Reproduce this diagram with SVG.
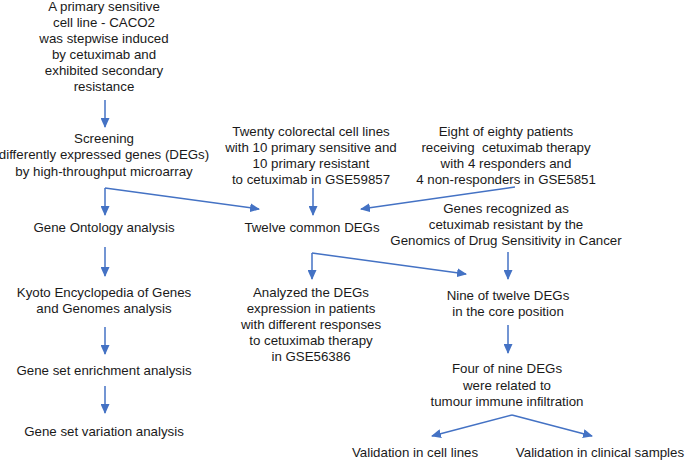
<svg xmlns="http://www.w3.org/2000/svg" width="685" height="463" viewBox="0 0 685 463">
<style>
text{font-family:"Liberation Sans",Arial,sans-serif;font-size:13.3px;fill:#1a1a1a;text-anchor:middle}
.c{fill:none;stroke:#4472C4;stroke-width:1.5}
</style>
<defs>
<marker id="ah" markerUnits="userSpaceOnUse" markerWidth="10" markerHeight="9" refX="9" refY="4.5" orient="auto">
<path d="M0,0 L10,4.5 L0,9 z" fill="#4472C4"/>
</marker>
</defs>
<rect width="685" height="463" fill="#fff"/>
<g id="connectors">
<path class="c" d="M105,100 L105,127" marker-end="url(#ah)"/>
<path class="c" d="M105,188 L105,215" marker-end="url(#ah)"/>
<path class="c" d="M105,188 L259,209" marker-end="url(#ah)"/>
<path class="c" d="M313,188 L313,215" marker-end="url(#ah)"/>
<path class="c" d="M515,187 L361,209" marker-end="url(#ah)"/>
<path class="c" d="M105,247 L105,276" marker-end="url(#ah)"/>
<path class="c" d="M105,327 L105,354" marker-end="url(#ah)"/>
<path class="c" d="M105,386 L105,413" marker-end="url(#ah)"/>
<path class="c" d="M312,253 L312,279" marker-end="url(#ah)"/>
<path class="c" d="M312,253 L466,274" marker-end="url(#ah)"/>
<path class="c" d="M508,252 L508,279" marker-end="url(#ah)"/>
<path class="c" d="M508,325 L508,353" marker-end="url(#ah)"/>
<path class="c" d="M512,415 L432,436" marker-end="url(#ah)"/>
<path class="c" d="M512,415 L592,436" marker-end="url(#ah)"/>
</g>
<g id="n_caco2">
<text x="104" y="11">A primary sensitive</text>
<text x="104" y="27">cell line - CACO2</text>
<text x="104" y="43">was stepwise induced</text>
<text x="104" y="59">by cetuximab and</text>
<text x="104" y="75">exhibited secondary</text>
<text x="104" y="91">resistance</text>
</g>
<g id="n_screening">
<text x="104" y="142.5">Screening</text>
<text x="104" y="159">differently expressed genes (DEGs)</text>
<text x="104" y="175.5">by high-throughput microarray</text>
</g>
<g id="n_twenty">
<text x="311" y="136">Twenty colorectal cell lines</text>
<text x="311" y="152">with 10 primary sensitive and</text>
<text x="311" y="168">10 primary resistant</text>
<text x="311" y="184">to cetuximab in GSE59857</text>
</g>
<g id="n_eight">
<text x="506" y="136">Eight of eighty patients</text>
<text x="506" y="152" xml:space="preserve">receiving  cetuximab therapy</text>
<text x="506" y="168">with 4 responders and</text>
<text x="506" y="184">4 non-responders in GSE5851</text>
</g>
<g id="n_go">
<text x="104" y="232">Gene Ontology analysis</text>
</g>
<g id="n_twelve">
<text x="312" y="232">Twelve common DEGs</text>
</g>
<g id="n_gdsc">
<text x="506" y="213">Genes recognized as</text>
<text x="506" y="229">cetuximab resistant by the</text>
<text x="506" y="245">Genomics of Drug Sensitivity in Cancer</text>
</g>
<g id="n_kegg">
<text x="104" y="297">Kyoto Encyclopedia of Genes</text>
<text x="104" y="313">and Genomes analysis</text>
</g>
<g id="n_analyzed">
<text x="311" y="297">Analyzed the DEGs</text>
<text x="311" y="313">expression in patients</text>
<text x="311" y="329">with different responses</text>
<text x="311" y="345">to cetuximab therapy</text>
<text x="311" y="361">in GSE56386</text>
</g>
<g id="n_nine">
<text x="508" y="300">Nine of twelve DEGs</text>
<text x="508" y="316">in the core position</text>
</g>
<g id="n_gsea">
<text x="104" y="375">Gene set enrichment analysis</text>
</g>
<g id="n_four">
<text x="507" y="373">Four of nine DEGs</text>
<text x="507" y="389.5">were related to</text>
<text x="507" y="406">tumour immune infiltration</text>
</g>
<g id="n_gsva">
<text x="104" y="436">Gene set variation analysis</text>
</g>
<g id="n_val_cell">
<text x="415" y="457">Validation in cell lines</text>
</g>
<g id="n_val_clin">
<text x="600" y="457">Validation in clinical samples</text>
</g>
</svg>
